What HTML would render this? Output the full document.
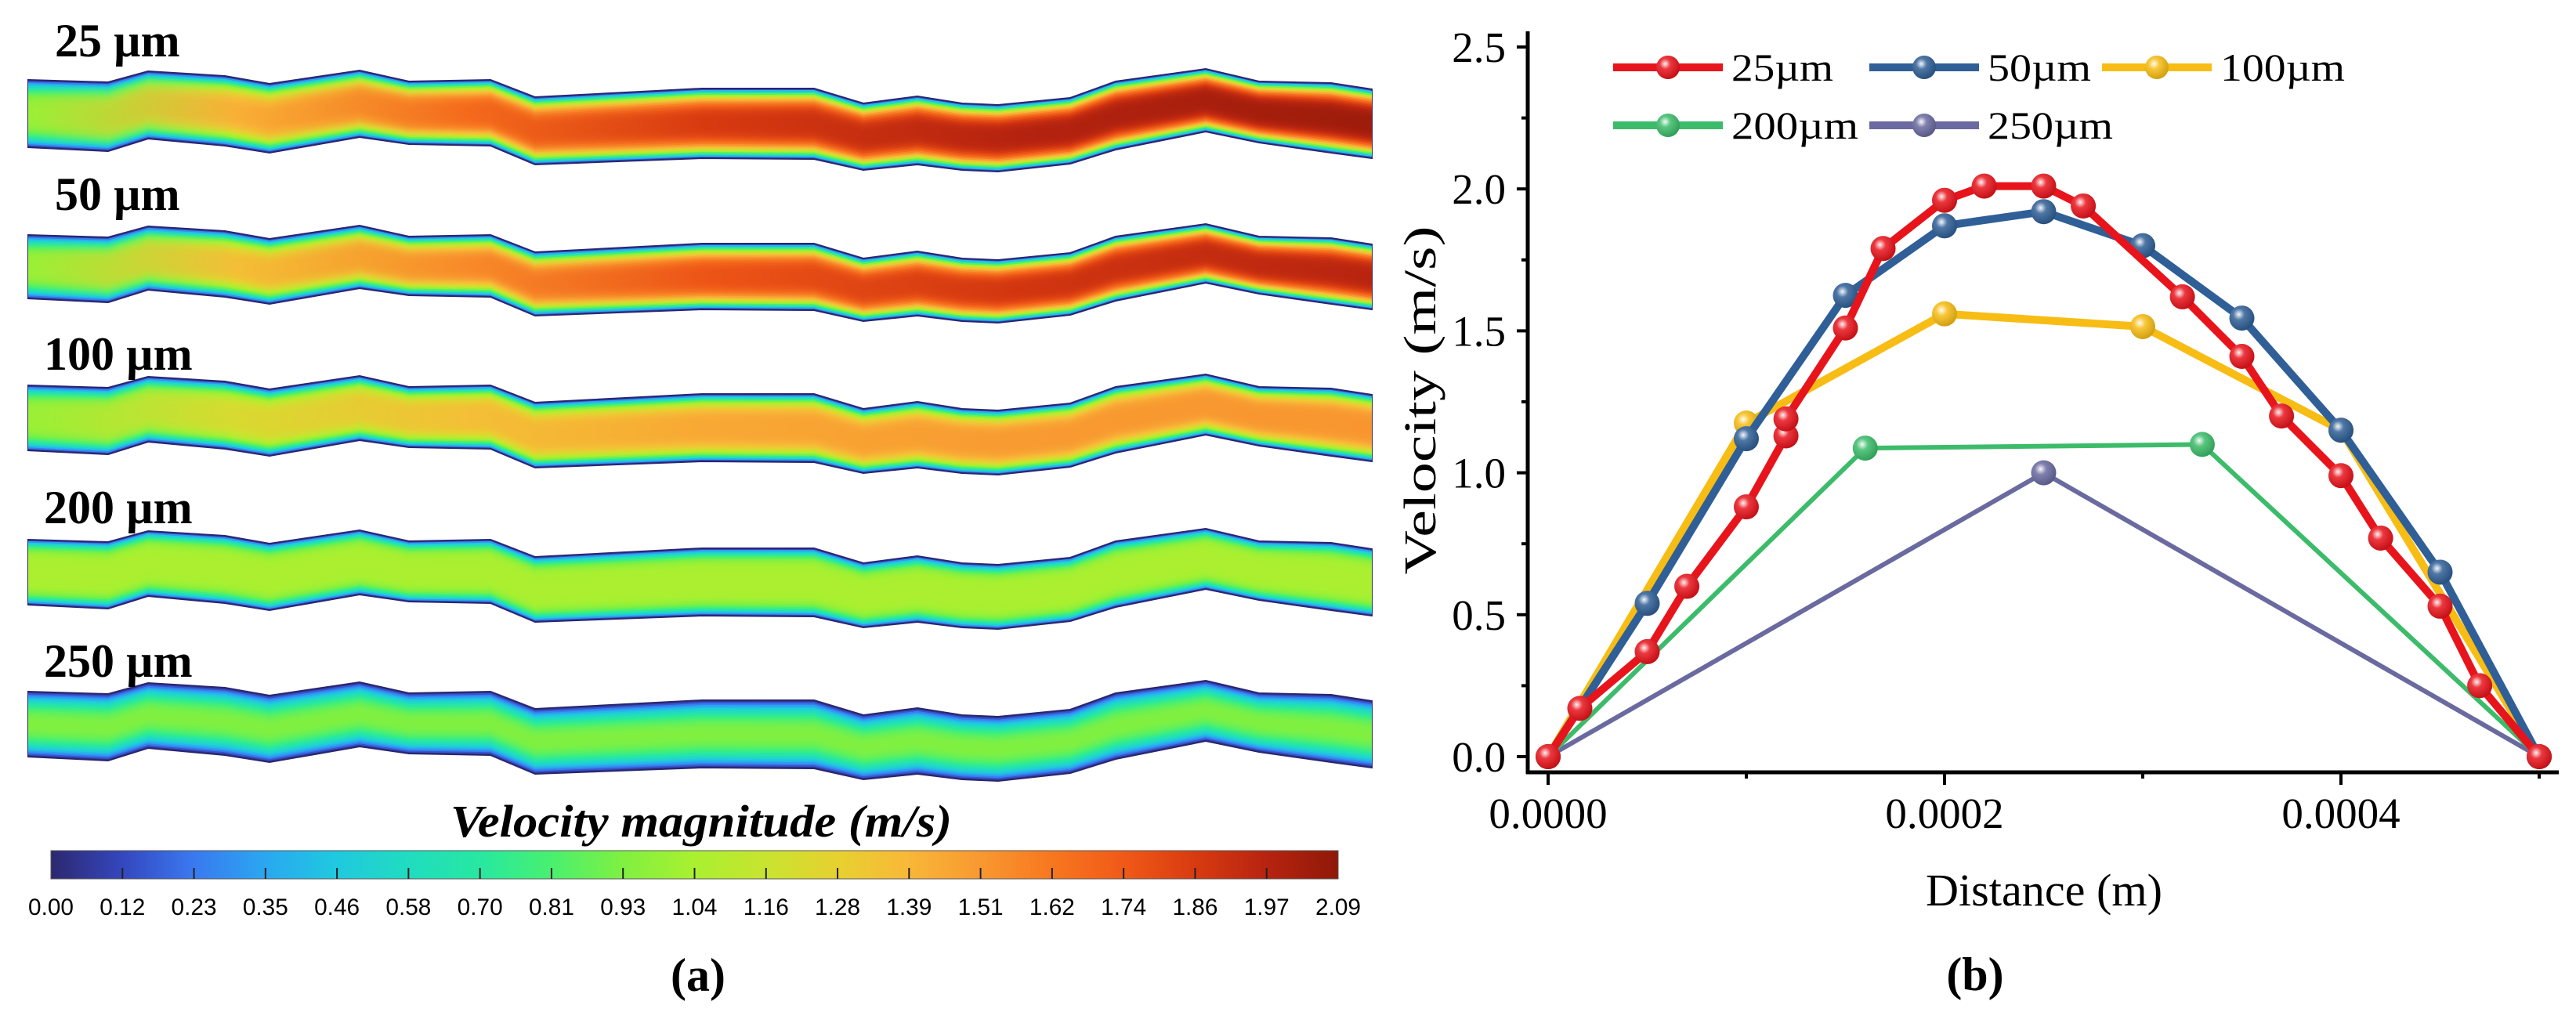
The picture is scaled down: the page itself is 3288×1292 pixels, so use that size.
<!DOCTYPE html>
<html><head><meta charset="utf-8"><style>
html,body{margin:0;padding:0;background:#fff;}
svg{display:block;}
text{font-family:"Liberation Serif",serif;fill:#000;}
</style></head><body>
<svg id="fig" width="3288" height="1292" viewBox="0 0 3288 1292" xmlns="http://www.w3.org/2000/svg">
<defs>
<radialGradient id="shine" cx="0.38" cy="0.35" r="0.65">
<stop offset="0" stop-color="#fff" stop-opacity="0.95"/>
<stop offset="0.35" stop-color="#fff" stop-opacity="0.15"/>
<stop offset="1" stop-color="#000" stop-opacity="0.15"/>
</radialGradient>
</defs>
<g id="panelA"></g>
<g id="colorbar"></g>
<text x="895" y="1068" font-size="58" font-weight="bold" font-style="italic" text-anchor="middle" textLength="640" lengthAdjust="spacingAndGlyphs">Velocity magnitude (m/s)</text>
<text x="891" y="1265" font-size="60" font-weight="bold" text-anchor="middle">(a)</text>
<g id="chart"></g>
<text x="2521" y="1264" font-size="60" font-weight="bold" text-anchor="middle">(b)</text>
</svg>
<script>
// ---------- chart data ----------
const xTicks = [0, 0.0002, 0.0004];
const xTickLabels = ["0.0000", "0.0002", "0.0004"];
const yTicks = [0, 0.5, 1.0, 1.5, 2.0, 2.5];
const yTickLabels = ["0.0", "0.5", "1.0", "1.5", "2.0", "2.5"];
const seriesNames = ["25µm", "50µm", "100µm", "200µm", "250µm"];
const x25 = [0, 0.000016, 0.00005, 0.00007, 0.0001, 0.00012, 0.00012, 0.00015, 0.000169, 0.0002, 0.00022, 0.00025, 0.00027, 0.00032, 0.00035, 0.00037, 0.0004, 0.00042, 0.00045, 0.00047, 0.0005];
const v25 = [0, 0.17, 0.37, 0.60, 0.88, 1.13, 1.19, 1.51, 1.79, 1.96, 2.01, 2.01, 1.94, 1.62, 1.41, 1.20, 0.99, 0.77, 0.53, 0.25, 0];
const x50 = [0, 0.00005, 0.0001, 0.00015, 0.0002, 0.00025, 0.0003, 0.00035, 0.0004, 0.00045, 0.0005];
const v50 = [0, 0.54, 1.12, 1.625, 1.87, 1.92, 1.80, 1.545, 1.15, 0.65, 0];
const x100 = [0, 0.0001, 0.0002, 0.0003, 0.0004, 0.0005];
const v100 = [0, 1.175, 1.56, 1.515, 1.15, 0];
const x200 = [0, 0.00016, 0.00033, 0.0005];
const v200 = [0, 1.087, 1.10, 0];
const x250 = [0, 0.00025, 0.0005];
const v250 = [0, 1.0, 0];
// colorbar labels
const cbLabels = ["0.00","0.12","0.23","0.35","0.46","0.58","0.70","0.81","0.93","1.04","1.16","1.28","1.39","1.51","1.62","1.74","1.86","1.97","2.09"];
const bandLabels = ["25 µm","50 µm","100 µm","200 µm","250 µm"];

const NS = "http://www.w3.org/2000/svg";
function mk(tag, attrs, parent){const e=document.createElementNS(NS,tag);for(const k in attrs)e.setAttribute(k,attrs[k]);if(parent)parent.appendChild(e);return e;}

// ---------- colormap ----------
const cmV=[0,0.12,0.23,0.35,0.46,0.58,0.70,0.81,0.93,1.04,1.16,1.28,1.39,1.51,1.62,1.74,1.86,1.97,2.09];
const cmC=["#2c2870","#3548c0","#3a78f0","#2aa8f0","#20c8e0","#20dcc0","#28e8a0","#48f070","#80f040","#a8f030","#c8e430","#e8d030","#f8b838","#f89830","#f87820","#f05a18","#d83a10","#b82410","#901808"];
function hx(c){return [parseInt(c.slice(1,3),16),parseInt(c.slice(3,5),16),parseInt(c.slice(5,7),16)];}
function cmap(v){
  if(v<=0)return cmC[0]; if(v>=2.09)return cmC[cmC.length-1];
  for(let i=0;i<cmV.length-1;i++){if(v<=cmV[i+1]){const t=(v-cmV[i])/(cmV[i+1]-cmV[i]);const a=hx(cmC[i]),b=hx(cmC[i+1]);return "rgb("+a.map((q,j)=>Math.round(q+(b[j]-q)*t)).join(",")+")";}}
}

// ---------- panel (a) channels ----------
const defs=document.querySelector("defs");
const pA=document.getElementById("panelA");
const px=[36,138,189,287,344,459,522,626,683,896,1039,1102,1171,1228,1274,1366,1424,1539,1607,1699,1751];
const tdy=[0,3,-11,-5,5,-12,2,0,22,11,11,30,21,30,32,23,2,-14,2,4,12];
const bdy=[0,5,-11,-2,7,-13,-4,-2,22,14,15,29,22,29,31,21,3,-20,-6,7,14];
const bands=[
 {top:102,bot:188,lab:72,lx:70,p:3.5,vx:[36,300,600,900,1300,1751],vm:[1.0,1.42,1.68,1.86,1.98,2.05]},
 {top:300,bot:381,lab:268,lx:70,p:3.5,vx:[36,300,600,900,1300,1751],vm:[1.0,1.36,1.56,1.76,1.88,1.97]},
 {top:492,bot:575,lab:472,lx:56,p:4,vx:[36,300,600,900,1300,1751],vm:[1.0,1.22,1.36,1.45,1.50,1.52]},
 {top:689,bot:772,lab:668,lx:56,p:5,vx:[36,1751],vm:[1.05,1.05]},
 {top:883,bot:966,lab:864,lx:56,p:2.5,vx:[36,1751],vm:[0.93,0.93]}
];
const N=22;
bands.forEach((b,bi)=>{
  const g=mk("g",{},pA);
  
  
  const T=px.map((x,i)=>b.top+tdy[i]), B=px.map((x,i)=>b.bot+bdy[i]);
  for(let k=0;k<N;k++){
    const f=k/(2*N);
    const r=1-(k+0.5)/N;
    const gid="bg"+bi+"_"+k;
    const lg=mk("linearGradient",{id:gid,gradientUnits:"userSpaceOnUse",x1:36,y1:0,x2:1751,y2:0},defs);
    b.vx.forEach((x,i)=>{mk("stop",{offset:((x-36)/(1751-36)).toFixed(4),"stop-color":cmap(b.vm[i]*(1-Math.pow(r,b.p)))},lg);});
    let d="";
    px.forEach((x,i)=>{const y=T[i]+f*(B[i]-T[i]);d+=(i?"L":"M")+x+","+y.toFixed(1);});
    for(let i=px.length-1;i>=0;i--){const y=T[i]+(1-f)*(B[i]-T[i]);d+="L"+px[i]+","+y.toFixed(1);}
    d+="Z";
    mk("path",{d:d,fill:"url(#"+gid+")",stroke:k==0?"#2a2670":"none","stroke-width":k==0?2:0},g);
  }
  const t=mk("text",{x:b.lx,y:b.lab,"font-size":60,"font-weight":"bold"},pA);
  t.textContent=bandLabels[bi];
  
  
});

// ---------- colorbar ----------
const cb=document.getElementById("colorbar");
const cbg=mk("linearGradient",{id:"cbgrad",x1:0,y1:0,x2:1,y2:0},defs);
cmV.forEach((v,i)=>mk("stop",{offset:(v/2.09).toFixed(4),"stop-color":cmC[i]},cbg));
const cbX0=65,cbX1=1708,cbY0=1086,cbY1=1122;
const cbRect=mk("rect",{x:cbX0,y:cbY0,width:cbX1-cbX0,height:cbY1-cbY0,fill:"url(#cbgrad)",stroke:"#555","stroke-width":1},cb);


cbLabels.forEach((l,i)=>{
  const x=cbX0+i*(cbX1-cbX0)/(cbLabels.length-1);
  if(i>0&&i<cbLabels.length-1)mk("line",{x1:x,x2:x,y1:cbY1-14,y2:cbY1,stroke:"#222","stroke-width":2},cb);
  const t=mk("text",{x:x,y:1168,"font-size":30,"text-anchor":"middle",style:"font-family:'Liberation Sans',sans-serif",textLength:58,lengthAdjust:"spacingAndGlyphs"},cb);
  t.textContent=l;
  
  
});

// ---------- chart (b) ----------
const ch=document.getElementById("chart");
const X0=1976, XS=253/0.0001, Y0=966, YS=362.4;
function sx(v){return X0+v*XS;}
function sy(v){return Y0-v*YS;}
const axY=986, axX=1950;
const xa=mk("line",{x1:axX-2,x2:3266,y1:axY,y2:axY,stroke:"#000","stroke-width":5},ch);


const ya=mk("line",{x1:axX,x2:axX,y1:40,y2:axY+2,stroke:"#000","stroke-width":5},ch);


for(let v=0;v<=2.5001;v+=0.25){const major=Math.abs(v*2-Math.round(v*2))<1e-6;mk("line",{x1:axX-(major?14:8),x2:axX,y1:sy(v),y2:sy(v),stroke:"#000","stroke-width":4},ch);}
for(let v=0;v<=0.00050001;v+=0.0001){const major=Math.round(v/0.0001)%2==0;mk("line",{x1:sx(v),x2:sx(v),y1:axY,y2:axY+(major?16:8),stroke:"#000","stroke-width":4},ch);}
yTicks.forEach((v,i)=>{const t=mk("text",{x:1922,y:sy(v)+19,"font-size":55,"text-anchor":"end"},ch);t.textContent=yTickLabels[i];
 
 });
xTicks.forEach((v,i)=>{const t=mk("text",{x:sx(v),y:1057,"font-size":55,"text-anchor":"middle"},ch);t.textContent=xTickLabels[i];
 
 });
const xt=mk("text",{x:2609,y:1156,"font-size":58,"text-anchor":"middle",textLength:302,lengthAdjust:"spacingAndGlyphs"},ch);
xt.textContent="Distance (m)";


const yt=mk("text",{x:0,y:0,"font-size":58,"text-anchor":"middle",textLength:445,lengthAdjust:"spacingAndGlyphs",transform:"translate(1832,511) rotate(-90)"},ch);
yt.textContent="Velocity (m/s)";



const series=[
 {xs:x25,vs:v25,c:"#e8141c",w:10},
 {xs:x50,vs:v50,c:"#2f5f96",w:10},
 {xs:x100,vs:v100,c:"#f7bd14",w:10},
 {xs:x200,vs:v200,c:"#3cbc6a",w:6},
 {xs:x250,vs:v250,c:"#6a6aa0",w:6}
];
const order=[4,3,2,1,0];
order.forEach(si=>{
  const s=series[si];
  const g=mk("g",{},ch);
  
  
  const pts=s.xs.map((x,i)=>sx(x).toFixed(1)+","+sy(s.vs[i]).toFixed(1)).join(" ");
  const pl=mk("polyline",{points:pts,fill:"none",stroke:s.c,"stroke-width":s.w,"stroke-linejoin":"round"},g);
  
  
  s.xs.forEach((x,i)=>{
    const c=mk("circle",{cx:sx(x),cy:sy(s.vs[i]),r:16,fill:s.c},g);
    
    
    mk("circle",{cx:sx(x),cy:sy(s.vs[i]),r:16,fill:"url(#shine)"},g);
  });
});

// legend
const legPos=[[2059,86],[2386,86],[2683,86],[2059,160],[2386,160]];
const legTextW=[130,132,159,162,160];
series.forEach((s,i)=>{
  const [lx,ly]=legPos[i];
  const g=mk("g",{},ch);
  
  
  mk("line",{x1:lx,x2:lx+140,y1:ly,y2:ly,stroke:s.c,"stroke-width":10},g);
  mk("circle",{cx:lx+70,cy:ly,r:15,fill:s.c},g);
  mk("circle",{cx:lx+70,cy:ly,r:15,fill:"url(#shine)"},g);
  const t=mk("text",{x:lx+151,y:ly+17,"font-size":50,textLength:legTextW[i],lengthAdjust:"spacingAndGlyphs"},g);
  t.textContent=seriesNames[i];
});
</script>
</body></html>
